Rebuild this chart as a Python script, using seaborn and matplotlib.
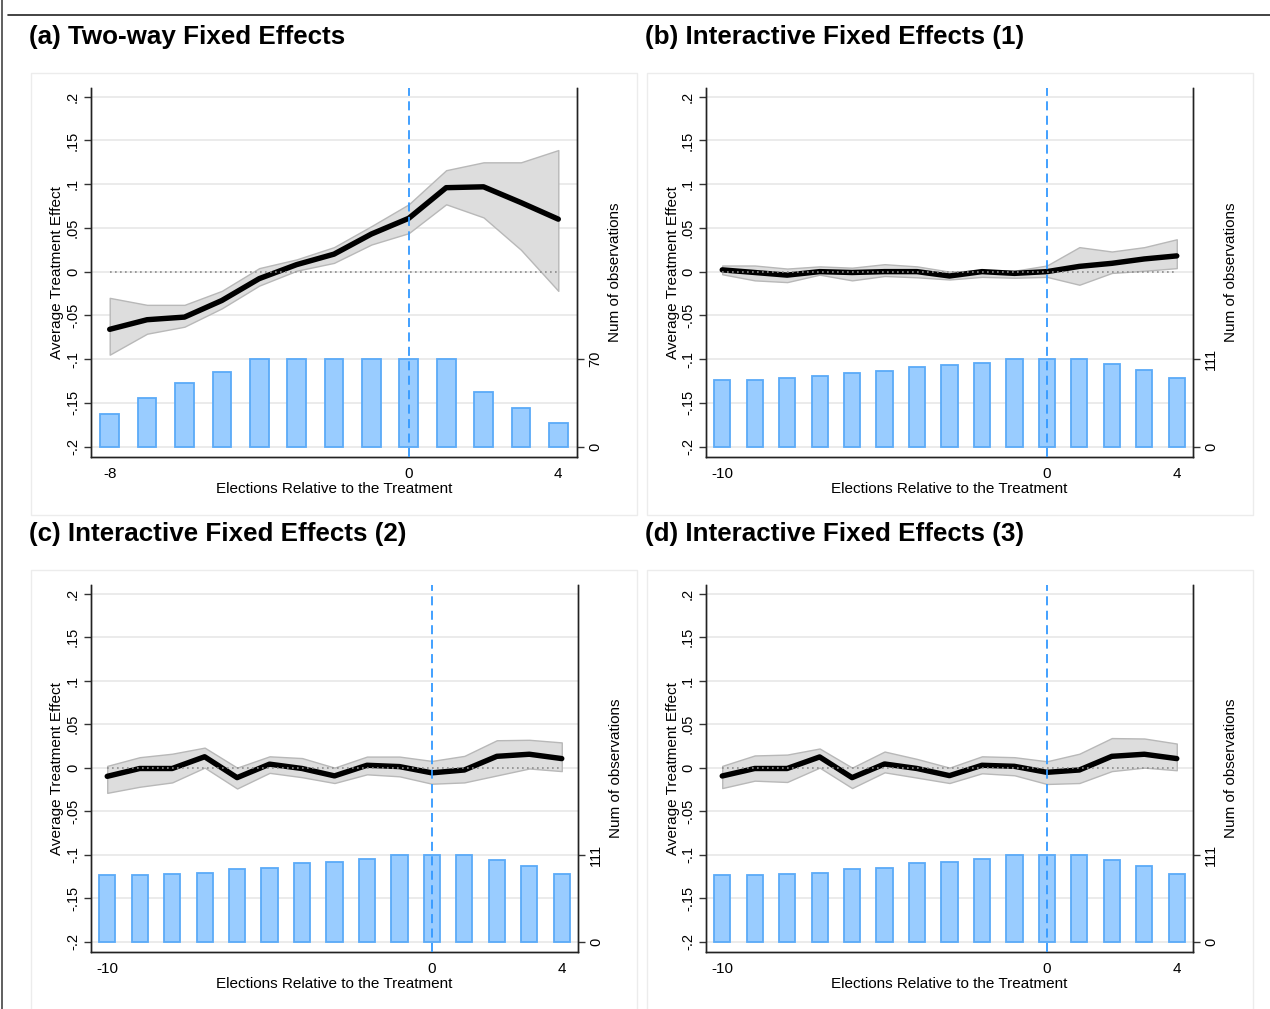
import matplotlib
matplotlib.use("Agg")
import matplotlib.pyplot as plt
from matplotlib.patches import Rectangle
from matplotlib.lines import Line2D
import numpy as np
import pandas as pd
import seaborn as sns

# ---- data ----
periods_a = [-8, -7, -6, -5, -4, -3, -2, -1, 0, 1, 2, 3, 4]
att_a = [-0.066, -0.055, -0.052, -0.033, -0.008, 0.008, 0.020, 0.043, 0.061, 0.096, 0.097, 0.079, 0.060]
upper_a = [-0.030, -0.038, -0.038, -0.022, 0.004, 0.014, 0.028, 0.052, 0.077, 0.116, 0.125, 0.125, 0.139]
lower_a = [-0.095, -0.071, -0.063, -0.042, -0.016, 0.001, 0.010, 0.031, 0.044, 0.077, 0.062, 0.025, -0.022]
nobs_a = [26, 39, 51, 60, 70, 70, 70, 70, 70, 70, 44, 31, 19]

periods_b = [-10, -9, -8, -7, -6, -5, -4, -3, -2, -1, 0, 1, 2, 3, 4]
att_b = [0.002, -0.001, -0.004, 0.000, -0.001, 0.000, 0.000, -0.005, 0.000, -0.002, 0.000, 0.006, 0.0095, 0.0145, 0.018]
upper_b = [0.007, 0.007, 0.0035, 0.006, 0.0045, 0.0085, 0.006, 0.000, 0.0015, 0.001, 0.007, 0.028, 0.023, 0.028, 0.037]
lower_b = [-0.003, -0.010, -0.012, -0.0035, -0.010, -0.005, -0.0065, -0.009, -0.006, -0.007, -0.006, -0.015, -0.0015, 0.001, 0.004]
nobs_b = [85, 85, 87, 90, 93, 96, 101, 104, 106, 111, 111, 111, 105, 97, 87]

att_c = [-0.010, -0.001, -0.001, 0.0125, -0.0115, 0.004, -0.001, -0.0095, 0.0027, 0.0012, -0.006, -0.0027, 0.013, 0.0154, 0.0104]
upper_c = [0.002, 0.012, 0.016, 0.023, 0.000, 0.013, 0.011, 0.000, 0.0127, 0.0127, 0.0077, 0.0135, 0.0315, 0.032, 0.029]
lower_c = [-0.029, -0.022, -0.017, 0.000, -0.024, -0.006, -0.011, -0.0177, -0.0077, -0.010, -0.0185, -0.017, -0.009, -0.001, -0.004]
nobs_c = [85, 85, 86, 88, 92, 94, 100, 102, 105, 110, 110, 111, 104, 97, 86]

att_d = [-0.0096, -0.001, -0.001, 0.0123, -0.0115, 0.0042, -0.001, -0.0092, 0.0027, 0.0015, -0.0054, -0.0027, 0.013, 0.0154, 0.0104]
upper_d = [0.002, 0.014, 0.015, 0.022, 0.000, 0.0185, 0.010, 0.000, 0.013, 0.012, 0.0073, 0.016, 0.034, 0.0335, 0.0277]
lower_d = [-0.0235, -0.015, -0.0165, 0.000, -0.0235, -0.0054, -0.0115, -0.0177, -0.0065, -0.0088, -0.0188, -0.0177, -0.004, 0.000, -0.003]
nobs_d = [85, 85, 86, 88, 92, 94, 100, 102, 105, 110, 110, 111, 104, 97, 86]

titles = ["(a) Two-way Fixed Effects", "(b) Interactive Fixed Effects (1)",
          "(c) Interactive Fixed Effects (2)", "(d) Interactive Fixed Effects (3)"]

sns.set_style("white")
plt.rcParams['font.family'] = ['Liberation Sans', 'DejaVu Sans']
plt.rcParams.update({"text.color": "black", "axes.labelcolor": "black",
                     "xtick.color": "black", "ytick.color": "black"})

W, H = 1270, 1009
fig = plt.figure(figsize=(W / 100, H / 100), dpi=100)

BAR_FACE = "#99CCFF"
BAR_EDGE = "#5AAAF8"
VLINE = "#3399FF"
YLO, YHI = -0.212, 0.21


def px_axes(left, right, top, bottom):
    return fig.add_axes([left / W, 1 - bottom / H, (right - left) / W, (bottom - top) / H])


def event_panel(rect, periods, att, lo, hi, nobs, cmax, xlabels):
    ax = px_axes(*rect)
    df = pd.DataFrame({"period": periods, "att": att, "lo": lo, "hi": hi})

    # grid at y ticks, behind everything
    yt = [-0.2, -0.15, -0.1, -0.05, 0, 0.05, 0.1, 0.15, 0.2]
    ax.set_yticks(yt)
    ax.set_yticklabels(["-.2", "-.15", "-.1", "-.05", "0", ".05", ".1", ".15", ".2"],
                       rotation=90, va="center", fontsize=10.5)
    ax.grid(axis="y", color="#e8e8e8", lw=1.2)
    ax.set_axisbelow(True)

    ax.fill_between(df["period"], df["lo"], df["hi"], color="#dddddd", ec="#b8b8b8", lw=1, zorder=2)
    sns.lineplot(data=df, x="period", y="att", ax=ax, color="black", lw=3.9, zorder=3)
    ax.plot([periods[0], periods[-1]], [0, 0], ls=(0, (1, 2)), color="#8c8c8c", lw=1.2, zorder=4)

    ax.set_ylim(YLO, YHI)
    ax.set_xlim(periods[0] - 0.5, periods[-1] + 0.5)
    ax.set_ylabel("Average Treatment Effect", fontsize=11, labelpad=1)
    ax.set_xlabel("Elections Relative to the Treatment", fontsize=11, labelpad=1)

    # count axis on the right
    ax2 = ax.twinx()
    cnt = pd.DataFrame({"period": periods, "n": nobs})
    sns.barplot(data=cnt, x="period", y="n", ax=ax2, native_scale=True, width=0.5,
                color=BAR_FACE, edgecolor=BAR_EDGE, linewidth=1.3, saturation=1, zorder=2)
    ax2.set_ylim((YLO + 0.2) / 0.1 * cmax, (YHI + 0.2) / 0.1 * cmax)
    ax2.set_yticks([0, cmax])
    ax2.set_yticklabels(["0", str(cmax)], rotation=90, va="center", fontsize=10.5)
    ax2.set_ylabel("Num of observations", fontsize=11, labelpad=4)
    ax2.axvline(0, color=VLINE, ls=(0, (5, 3)), lw=1.3, zorder=5)
    ax2.set_xlim(periods[0] - 0.5, periods[-1] + 0.5)

    ax.set_xticks(periods)
    ax.set_xticklabels([str(p) if p in xlabels else "" for p in periods], fontsize=11)

    for a in (ax, ax2):
        for s in ("left", "right", "bottom"):
            a.spines[s].set_visible(True)
            a.spines[s].set_color("#222222")
            a.spines[s].set_linewidth(1.0)
        a.spines["top"].set_visible(False)
        a.tick_params(length=5, width=1, color="#333333", pad=3)
    ax.tick_params(axis="x", length=6, pad=1)
    return ax


event_panel((91, 577, 88, 457), periods_a, att_a, lower_a, upper_a, nobs_a, 70, [-8, 0, 4])
event_panel((706, 1193, 88, 457), periods_b, att_b, lower_b, upper_b, nobs_b, 111, [-10, 0, 4])
event_panel((91, 578, 585, 952), periods_b, att_c, lower_c, upper_c, nobs_c, 111, [-10, 0, 4])
event_panel((706, 1193, 585, 952), periods_b, att_d, lower_d, upper_d, nobs_d, 111, [-10, 0, 4])

# panel frames and titles
for (x0, y0, x1, y1), t in zip([(31, 73, 637, 515), (647, 73, 1253, 515),
                                 (31, 570, 637, 1012), (647, 570, 1253, 1012)], titles):
    fig.patches.append(Rectangle((x0 / W, 1 - y1 / H), (x1 - x0) / W, (y1 - y0) / H,
                                 transform=fig.transFigure, fill=False, ec="#ececec", lw=1))
    fig.text((x0 - 2) / W, 1 - (y0 - 36) / H, t, fontsize=18.7, fontweight="bold",
             va="center", ha="left", color="black")

# page rules
fig.add_artist(Line2D([8 / W, 1], [1 - 15 / H, 1 - 15 / H], color="#222222", lw=1.2))
fig.add_artist(Line2D([1.5 / W, 1.5 / W], [0, 1], color="#444444", lw=1.2))

fig.savefig("out.png", dpi=100)
